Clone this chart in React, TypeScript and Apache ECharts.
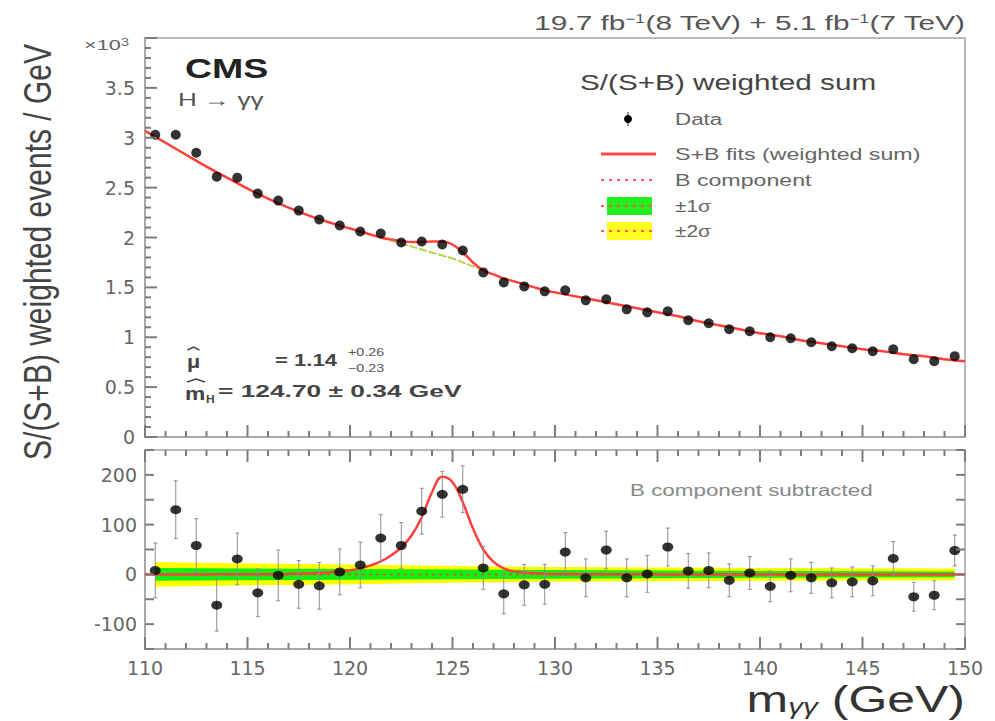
import React, { useEffect, useRef } from "react";
import * as echarts from "echarts";

// Diphoton invariant-mass bins (bin centres, GeV)
const massBins = [
  110.5, 111.5, 112.5, 113.5, 114.5, 115.5, 116.5, 117.5, 118.5, 119.5,
  120.5, 121.5, 122.5, 123.5, 124.5, 125.5, 126.5, 127.5, 128.5, 129.5,
  130.5, 131.5, 132.5, 133.5, 134.5, 135.5, 136.5, 137.5, 138.5, 139.5,
  140.5, 141.5, 142.5, 143.5, 144.5, 145.5, 146.5, 147.5, 148.5, 149.5,
];

// S/(S+B) weighted events / GeV, in units of 10^3
const weightedEvents = [
  3.03, 3.03, 2.85, 2.61, 2.6, 2.44, 2.37, 2.27, 2.18, 2.12,
  2.06, 2.04, 1.95, 1.96, 1.93, 1.87, 1.65, 1.55, 1.51, 1.46,
  1.47, 1.37, 1.38, 1.28, 1.25, 1.26, 1.17, 1.14, 1.08, 1.06,
  1.0, 0.99, 0.95, 0.91, 0.89, 0.86, 0.88, 0.78, 0.76, 0.81,
];

// Background-subtracted weighted events / GeV and their uncertainties
const subtractedEvents = [
  8, 130, 58, -62, 31, -37, -2, -20, -23, 5,
  19, 73, 58, 127, 161, 171, 13, -39, -21, -20,
  45, -7, 49, -7, 1, 55, 7, 8, -12, 3,
  -24, -2, -7, -17, -15, -13, 32, -45, -42, 48,
];
const subtractedErrors = [
  55, 58, 54, 52, 52, 48, 51, 48, 47, 46,
  46, 47, 46, 46, 46, 47, 43, 40, 41, 40,
  39, 38, 38, 38, 37, 38, 35, 35, 33, 33,
  31, 33, 31, 30, 30, 30, 34, 29, 29, 31,
];

// Sampling points of the fitted curves (GeV)
const curveMass = [
  110, 111, 112, 113, 114, 115, 116, 117, 118, 119,
  120, 120.5, 121, 121.5, 122, 122.5, 123, 123.5, 124, 124.5,
  125, 125.5, 126, 126.5, 127, 127.5, 128, 128.5, 129, 129.5, 130,
  131, 132, 133, 134, 135, 136, 137, 138, 139, 140,
  141, 142, 143, 144, 145, 146, 147, 148, 149, 150,
];
// B component (x10^3)
const bkgCurve = [
  3.07, 2.95, 2.83, 2.71, 2.6, 2.49, 2.39, 2.3, 2.22, 2.15,
  2.09, 2.06, 2.03, 2.0, 1.97, 1.94, 1.91, 1.88, 1.85, 1.82,
  1.79, 1.75, 1.71, 1.67, 1.63, 1.59, 1.56, 1.53, 1.5, 1.47, 1.45,
  1.41, 1.37, 1.33, 1.29, 1.25, 1.21, 1.16, 1.12, 1.08, 1.04,
  1.01, 0.97, 0.94, 0.91, 0.88, 0.86, 0.83, 0.81, 0.78, 0.76,
];
// S+B fit, weighted sum (x10^3)
const fitCurve = [
  3.07, 2.95, 2.83, 2.71, 2.6, 2.49, 2.39, 2.3, 2.22, 2.15,
  2.09, 2.06, 2.03, 2.0, 1.98, 1.965, 1.955, 1.955, 1.96, 1.96,
  1.93, 1.85, 1.75, 1.67, 1.63, 1.59, 1.56, 1.53, 1.5, 1.47, 1.45,
  1.41, 1.37, 1.33, 1.29, 1.25, 1.21, 1.16, 1.12, 1.08, 1.04,
  1.01, 0.97, 0.94, 0.91, 0.88, 0.86, 0.83, 0.81, 0.78, 0.76,
];
// Signal component after B subtraction (events / GeV)
const signalCurve = [
  0, 0, 0, 0, 0.2, 0.3, 0.5, 1, 2, 4,
  8, 12, 18, 26, 38, 54, 78, 115, 165, 196,
  185, 145, 92, 50, 25, 12, 6, 4, 2.5, 1.5, 1,
  0.5, 0.3, 0.2, 0.1, 0, 0, 0, 0, 0, 0,
  0, 0, 0, 0, 0, 0, 0, 0, 0, 0,
];

// Uncertainty bands of the B component in the lower panel
const bandMass = [110.5, 115, 120, 125, 130, 135, 140, 145, 149.5];
const band1Sigma = [13, 12, 11, 10, 9, 8, 7, 6.5, 6];
const band2Sigma = [25, 22, 20, 17, 15, 14, 13, 12.5, 12];
const zeroLineMass = [110, 150];

const FRAME = "#a3a3a3";
const TICK = "#7c7c7c";
const TICK_FONT = "DejaVu Sans";
const TEXT_FONT = "Liberation Sans";

function text(
  content: string,
  x: number,
  y: number,
  o: {
    size: number;
    color?: string;
    weight?: string;
    align?: string;
    sx?: number;
    sy?: number;
    rotation?: number;
    rich?: any;
  }
) {
  const style: any = {
    text: content,
    fill: o.color ?? "#555",
    fontSize: o.size,
    fontFamily: TEXT_FONT,
    fontWeight: o.weight ?? "normal",
    align: o.align ?? "left",
    verticalAlign: "middle",
    textAlign: o.align ?? "left",
    textVerticalAlign: "middle",
  };
  if (o.rich) style.rich = o.rich;
  return {
    type: "text",
    x,
    y,
    scaleX: o.sx ?? 1,
    scaleY: o.sy ?? 1,
    rotation: o.rotation ?? 0,
    z: 100,
    silent: true,
    style,
  };
}

// circumflex drawn over a symbol of the fit results
function hat(cx: number, y: number, halfWidth: number) {
  return {
    type: "polyline",
    z: 100,
    silent: true,
    shape: { points: [[cx - halfWidth, y + 3], [cx, y], [cx + halfWidth, y + 3]] },
    style: { stroke: "#444", lineWidth: 1.4, fill: null },
  };
}

function bandRenderer(width: number[], color: string) {
  return (params: any, api: any) => {
    if (params.dataIndex !== 0) return null;
    const upper = bandMass.map((m, i) => api.coord([m, width[i]]));
    const lower = bandMass.map((m, i) => api.coord([m, -width[i]])).reverse();
    return {
      type: "polygon",
      shape: { points: upper.concat(lower), smooth: 0 },
      style: { fill: color },
      silent: true,
    };
  };
}

function errorBarRenderer(params: any, api: any) {
  const x = api.value(0);
  const y = api.value(1);
  const e = api.value(2);
  const hi = api.coord([x, y + e]);
  const lo = api.coord([x, y - e]);
  const st = { stroke: "#8c8c8c", lineWidth: 1 };
  return {
    type: "group",
    children: [
      { type: "line", shape: { x1: hi[0], y1: hi[1], x2: lo[0], y2: lo[1] }, style: st },
      { type: "line", shape: { x1: hi[0] - 2, y1: hi[1], x2: hi[0] + 2, y2: hi[1] }, style: st },
      { type: "line", shape: { x1: lo[0] - 2, y1: lo[1], x2: lo[0] + 2, y2: lo[1] }, style: st },
    ],
  };
}

function tickLine(x1: number, y1: number, x2: number, y2: number) {
  return { type: "line", shape: { x1, y1, x2, y2 }, style: { stroke: TICK, lineWidth: 2 } };
}

// Inward frame ticks of the upper panel (bottom and left edges)
function upperTicks(params: any, api: any) {
  const kids: any[] = [];
  for (let v = 110; v <= 150; v += 1) {
    const len = v % 5 === 0 ? 12 : 6;
    const p = api.coord([v, 0]);
    kids.push(tickLine(p[0], p[1], p[0], p[1] - len));
  }
  for (let k = 0; k <= 40; k += 1) {
    const len = k % 5 === 0 ? 12 : 6;
    const p = api.coord([110, k / 10]);
    kids.push(tickLine(p[0], p[1], p[0] + len, p[1]));
  }
  return { type: "group", children: kids };
}

// Inward frame ticks of the lower panel (all four edges)
function lowerTicks(params: any, api: any) {
  const kids: any[] = [];
  for (let v = 110; v <= 150; v += 1) {
    const len = v % 5 === 0 ? 12 : 6;
    const pb = api.coord([v, -150]);
    kids.push(tickLine(pb[0], pb[1], pb[0], pb[1] - len));
    const pt = api.coord([v, 250]);
    kids.push(tickLine(pt[0], pt[1], pt[0], pt[1] + len));
  }
  for (let v = -150; v <= 250; v += 50) {
    const pl = api.coord([110, v]);
    kids.push(tickLine(pl[0], pl[1], pl[0] + 9, pl[1]));
    const pr = api.coord([150, v]);
    kids.push(tickLine(pr[0], pr[1], pr[0] - 9, pr[1]));
  }
  return { type: "group", children: kids };
}

function buildOption() {
  const axisLine = { show: true, onZero: false, lineStyle: { color: FRAME, width: 1.5 } };
  const labelStyle = { color: "#666", fontSize: 19, fontFamily: TICK_FONT };

  const legendX = 601;
  const legendGraphics = [
    text("S/(S+B) weighted sum", 580, 82, { size: 22, sx: 1.35, color: "#444" }),
    { type: "line", shape: { x1: 628, y1: 112, x2: 628, y2: 126 }, style: { stroke: "#333", lineWidth: 1 }, z: 100 },
    { type: "circle", shape: { cx: 628, cy: 119, r: 4 }, style: { fill: "#000" }, z: 100 },
    { type: "line", shape: { x1: legendX, y1: 154, x2: 656, y2: 154 }, style: { stroke: "#ff4a4a", lineWidth: 3 }, z: 100 },
    { type: "line", shape: { x1: legendX, y1: 180, x2: 656, y2: 180 }, style: { stroke: "#ff5a5a", lineWidth: 2, lineDash: [3, 5] }, z: 100 },
    { type: "rect", shape: { x: 607, y: 197, width: 45, height: 18 }, style: { fill: "#22ee22" }, z: 99 },
    { type: "line", shape: { x1: legendX, y1: 206, x2: 656, y2: 206 }, style: { stroke: "#ff5a3a", lineWidth: 2, lineDash: [3, 5] }, z: 100 },
    { type: "rect", shape: { x: 607, y: 222, width: 45, height: 18 }, style: { fill: "#ffff22" }, z: 99 },
    { type: "line", shape: { x1: legendX, y1: 231, x2: 656, y2: 231 }, style: { stroke: "#ff5a3a", lineWidth: 2, lineDash: [3, 5] }, z: 100 },
    text("Data", 675, 119, { size: 16, sx: 1.4, color: "#666" }),
    text("S+B fits (weighted sum)", 675, 154, { size: 16, sx: 1.45, color: "#666" }),
    text("B component", 675, 180, { size: 16, sx: 1.45, color: "#666" }),
    text("±1σ", 675, 206, { size: 16, sx: 1.3, color: "#666" }),
    text("±2σ", 675, 231, { size: 16, sx: 1.3, color: "#666" }),
  ];

  const graphics = [
    text("19.7 fb{sup|−1}(8 TeV) + 5.1 fb{sup|−1}(7 TeV)", 965, 23, {
      size: 21,
      sx: 1.42,
      align: "right",
      color: "#555",
      rich: { sup: { fontSize: 12, verticalAlign: "top", fontFamily: TEXT_FONT, fill: "#555" } },
    }),
    text("×10{sup|3}", 84, 45, {
      size: 15,
      sx: 1.45,
      color: "#666",
      rich: { sup: { fontSize: 10, verticalAlign: "top", fontFamily: TEXT_FONT, fill: "#666" } },
    }),
    text("CMS", 185, 68, { size: 28, weight: "bold", sx: 1.34, color: "#222" }),
    text("H → γγ", 178, 100, { size: 18, sx: 1.45, color: "#555" }),
    // fitted signal strength and mass
    text("μ", 187, 362, { size: 18, weight: "bold", sx: 1.2, color: "#444" }),
    hat(193.5, 347, 6),
    text("= 1.14", 275, 360, { size: 17, weight: "bold", sx: 1.3, color: "#444" }),
    text("+0.26", 348, 352, { size: 11, sx: 1.3, color: "#555" }),
    text("−0.23", 348, 368, { size: 11, sx: 1.3, color: "#555" }),
    text("m", 185, 393, { size: 19, weight: "bold", sx: 1.2, color: "#444" }),
    hat(196, 379, 9),
    text("H", 206, 399, { size: 10, weight: "bold", sx: 1.2, color: "#444" }),
    text("= 124.70 ± 0.34 GeV", 218, 391, { size: 17, weight: "bold", sx: 1.55, color: "#444" }),
    text("B component subtracted", 630, 490, { size: 16, sx: 1.4, color: "#888" }),
    text("S/(S+B) weighted events / GeV", 38, 252, {
      size: 30,
      sy: 1.3,
      rotation: Math.PI / 2,
      align: "center",
      color: "#444",
    }),
    text("m{sub|γγ} (GeV)", 965, 699, {
      size: 37,
      sx: 1.35,
      align: "right",
      color: "#333",
      rich: { sub: { fontSize: 22, verticalAlign: "bottom", fontStyle: "italic", fontFamily: TEXT_FONT, fill: "#333" } },
    }),
    ...legendGraphics,
  ];

  return {
    animation: false,
    backgroundColor: "#fff",
    grid: [
      { left: 145, top: 38, width: 820, height: 399, show: true, borderColor: FRAME, borderWidth: 1.5 },
      { left: 145, top: 450, width: 820, height: 199, show: true, borderColor: FRAME, borderWidth: 1.5 },
    ],
    xAxis: [
      {
        type: "value", gridIndex: 0, min: 110, max: 150, interval: 5,
        axisLine, axisTick: { show: false }, axisLabel: { show: false }, splitLine: { show: false },
      },
      {
        type: "value", gridIndex: 1, min: 110, max: 150, interval: 5,
        axisLine, axisTick: { show: false }, axisLabel: { ...labelStyle, margin: 9 }, splitLine: { show: false },
      },
    ],
    yAxis: [
      {
        type: "value",
        gridIndex: 0,
        min: 0,
        max: 4,
        interval: 0.5,
        axisLine,
        axisTick: { show: false },
        axisLabel: { ...labelStyle, margin: 10, formatter: (v: number) => (v >= 4 ? "" : String(v)) },
        splitLine: { show: false },
      },
      {
        type: "value",
        gridIndex: 1,
        min: -150,
        max: 250,
        interval: 50,
        axisLine,
        axisTick: { show: false },
        axisLabel: {
          ...labelStyle,
          margin: 8,
          formatter: (v: number) => (v % 100 === 0 ? String(v) : ""),
        },
        splitLine: { show: false },
      },
    ],
    series: [
      // frame ticks
      { type: "custom", xAxisIndex: 0, yAxisIndex: 0, data: [[130, 2]], renderItem: upperTicks, clip: false, z: 20, silent: true },
      { type: "custom", xAxisIndex: 1, yAxisIndex: 1, data: [[130, 50]], renderItem: lowerTicks, clip: false, z: 20, silent: true },
      // upper panel
      {
        type: "line",
        xAxisIndex: 0,
        yAxisIndex: 0,
        data: curveMass.map((m, i) => [m, bkgCurve[i]]),
        smooth: 0.4,
        showSymbol: false,
        lineStyle: { color: "#a8e040", width: 2, type: [6, 4] },
        z: 3,
        silent: true,
      },
      {
        type: "line",
        xAxisIndex: 0,
        yAxisIndex: 0,
        data: curveMass.map((m, i) => [m, bkgCurve[i]]),
        smooth: 0.4,
        showSymbol: false,
        lineStyle: { color: "#ff6a4a", width: 1.2, type: [2, 8], dashOffset: 4 },
        z: 4,
        silent: true,
      },
      {
        type: "line",
        xAxisIndex: 0,
        yAxisIndex: 0,
        data: curveMass.map((m, i) => [m, fitCurve[i]]),
        smooth: 0.4,
        showSymbol: false,
        lineStyle: { color: "#ff4040", width: 2.5 },
        z: 5,
        silent: true,
      },
      {
        type: "scatter",
        xAxisIndex: 0,
        yAxisIndex: 0,
        data: massBins.map((m, i) => [m, weightedEvents[i]]),
        symbol: "circle",
        symbolSize: 10,
        itemStyle: { color: "#000" },
        z: 10,
        silent: true,
      },
      // lower panel
      {
        type: "custom",
        xAxisIndex: 1,
        yAxisIndex: 1,
        data: bandMass.map((m, i) => [m, band2Sigma[i]]),
        renderItem: bandRenderer(band2Sigma, "#ffff00"),
        z: 2,
        silent: true,
      },
      {
        type: "custom",
        xAxisIndex: 1,
        yAxisIndex: 1,
        data: bandMass.map((m, i) => [m, band1Sigma[i]]),
        renderItem: bandRenderer(band1Sigma, "#11ee11"),
        z: 3,
        silent: true,
      },
      {
        type: "line",
        xAxisIndex: 1,
        yAxisIndex: 1,
        data: zeroLineMass.map((m) => [m, 0]),
        showSymbol: false,
        lineStyle: { color: "#e0502a", width: 1.5, type: [3, 4] },
        z: 4,
        silent: true,
      },
      {
        type: "line",
        xAxisIndex: 1,
        yAxisIndex: 1,
        data: curveMass.map((m, i) => [m, signalCurve[i]]),
        smooth: 0.4,
        showSymbol: false,
        lineStyle: { color: "#ff4040", width: 2.5 },
        z: 5,
        silent: true,
      },
      {
        type: "custom",
        xAxisIndex: 1,
        yAxisIndex: 1,
        data: massBins.map((m, i) => [m, subtractedEvents[i], subtractedErrors[i]]),
        encode: { x: 0, y: 1 },
        renderItem: errorBarRenderer,
        z: 8,
        silent: true,
      },
      {
        type: "scatter",
        xAxisIndex: 1,
        yAxisIndex: 1,
        data: massBins.map((m, i) => [m, subtractedEvents[i]]),
        symbol: "circle",
        symbolSize: [11, 9],
        itemStyle: { color: "#000" },
        z: 10,
        silent: true,
      },
    ],
    graphic: graphics,
  };
}

export default function App() {
  const ref = useRef<HTMLDivElement>(null);
  useEffect(() => {
    if (!ref.current) return;
    const chart = echarts.init(ref.current, null, { renderer: "svg" });
    chart.setOption(buildOption() as any);
    return () => chart.dispose();
  }, []);
  return (
    <div
      ref={ref}
      style={{ position: "fixed", left: 0, top: 0, width: 995, height: 721, background: "#fff" }}
    />
  );
}
